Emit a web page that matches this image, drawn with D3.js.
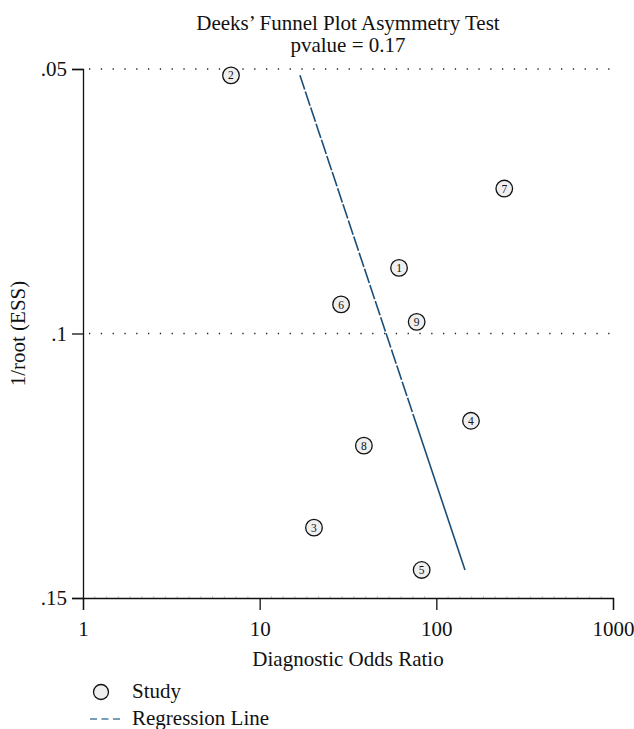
<!DOCTYPE html>
<html><head><meta charset="utf-8">
<script src="https://cdn.jsdelivr.net/npm/d3@7"></script>
<style>body{margin:0;background:#fff}svg{display:block}text{font-family:"Liberation Serif","DejaVu Serif",serif;fill:#111}</style>
</head><body>
<script>
const studies = [1,2,3,4,5,6,7,8,9];
const dor = [61.5, 6.88, 20.3, 157.1, 82.6, 28.9, 242.4, 38.9, 77.4];
const invRootEss = [0.0876, 0.0512, 0.1367, 0.1165, 0.1447, 0.0945, 0.0726, 0.1212, 0.0978];
const regX = [16.9, 145.3];
const regY = [0.0512, 0.1447];
const xTicks = [1, 10, 100, 1000];
const yTicks = [0.05, 0.1, 0.15];
const yTickLabels = [".05", ".1", ".15"];
const gridY = [0.05, 0.1];
const title = "Deeks\u2019 Funnel Plot Asymmetry Test";
const subtitle = "pvalue = 0.17";

const W = 634, H = 729;
const m = {l:83, r:21, t:69, b:131};
const FS = "21px";
const svg = d3.select("body").append("svg").attr("width", W).attr("height", H);
const x = d3.scaleLog().domain([1, 1000]).range([m.l, W - m.r]);
const y = d3.scaleLinear().domain([0.05, 0.15]).range([m.t, H - m.b]);
const cx = (m.l + W - m.r) / 2;

// gridlines
svg.selectAll(".grid").data(gridY).join("line")
  .attr("x1", m.l + 6).attr("x2", W - m.r)
  .attr("y1", d => y(d)).attr("y2", d => y(d))
  .attr("stroke", "#222").attr("stroke-width", 1.3)
  .attr("stroke-dasharray", "1.3,10.5");

// x axis
const xAxis = d3.axisBottom(x).tickValues(xTicks).tickFormat(d3.format("d")).tickSize(12).tickPadding(11);
const gx = svg.append("g").attr("transform", `translate(0,${y(0.15)})`).call(xAxis);
gx.select(".domain").attr("stroke", "#111").attr("stroke-width", 1.3);
gx.selectAll(".tick line").attr("stroke", "#111").attr("stroke-width", 1.3);
gx.selectAll("text").style("font-size", FS).style("font-family", "Liberation Serif");
const minor = d3.range(1, 45).map(k => Math.pow(10, k / 15)).filter(v => !xTicks.includes(v));
gx.selectAll(".minor").data(minor).join("line")
  .attr("x1", d => x(d)).attr("x2", d => x(d)).attr("y1", -1.5).attr("y2", 0)
  .attr("stroke", "#999").attr("stroke-width", 1);

// y axis
const yAxis = d3.axisLeft(y).tickValues(yTicks).tickFormat((d, i) => yTickLabels[i]).tickSize(11).tickPadding(5);
const gy = svg.append("g").attr("transform", `translate(${m.l},0)`).call(yAxis);
gy.select(".domain").attr("stroke", "#111").attr("stroke-width", 1.3);
gy.selectAll(".tick line").attr("stroke", "#111").attr("stroke-width", 1.3);
gy.selectAll("text").style("font-size", FS).style("font-family", "Liberation Serif");

// regression line: long dashes in the upper part, solid lower part
const x1 = x(regX[0]), y1 = y(regY[0]), x2 = x(regX[1]), y2 = y(regY[1]);
const len = Math.hypot(x2 - x1, y2 - y1);
const dashes = [];
let acc = 0;
while (acc < len * 0.66) { dashes.push(15, 2); acc += 17; }
dashes.push(len);
svg.append("line")
  .attr("x1", x1).attr("y1", y1).attr("x2", x2).attr("y2", y2)
  .attr("stroke", "#1a4f7a").attr("stroke-width", 1.6)
  .attr("stroke-dasharray", dashes.join(","));

// study markers
const pts = svg.selectAll(".pt").data(studies).join("g")
  .attr("transform", (d, i) => `translate(${x(dor[i])},${y(invRootEss[i])})`);
pts.append("circle").attr("r", 8.3).attr("fill", "#efefef").attr("stroke", "#111").attr("stroke-width", 1.3);
pts.append("text").text(d => d).attr("text-anchor", "middle").attr("dy", "0.36em")
  .style("font-size", "11.5px");

// titles
svg.append("text").attr("x", cx).attr("y", 29.5).attr("text-anchor", "middle")
  .style("font-size", FS).text(title);
svg.append("text").attr("x", cx).attr("y", 52).attr("text-anchor", "middle")
  .style("font-size", FS).text(subtitle);
svg.append("text").attr("x", cx).attr("y", 666).attr("text-anchor", "middle")
  .style("font-size", FS).text("Diagnostic Odds Ratio");
svg.append("text").attr("transform", `translate(25,${(m.t + H - m.b) / 2}) rotate(-90)`)
  .attr("text-anchor", "middle").style("font-size", FS).text("1/root (ESS)");

// legend
const lg = svg.append("g");
lg.append("circle").attr("cx", 101).attr("cy", 692).attr("r", 7.5).attr("fill", "#efefef").attr("stroke", "#111").attr("stroke-width", 1.3);
lg.append("text").attr("x", 132).attr("y", 698).style("font-size", FS).text("Study");
lg.append("line").attr("x1", 90).attr("x2", 120).attr("y1", 719).attr("y2", 719)
  .attr("stroke", "#4f7ea0").attr("stroke-width", 1.5).attr("stroke-dasharray", "7,4.5");
lg.append("text").attr("x", 132).attr("y", 725).style("font-size", FS).text("Regression Line");
</script>
</body></html>
